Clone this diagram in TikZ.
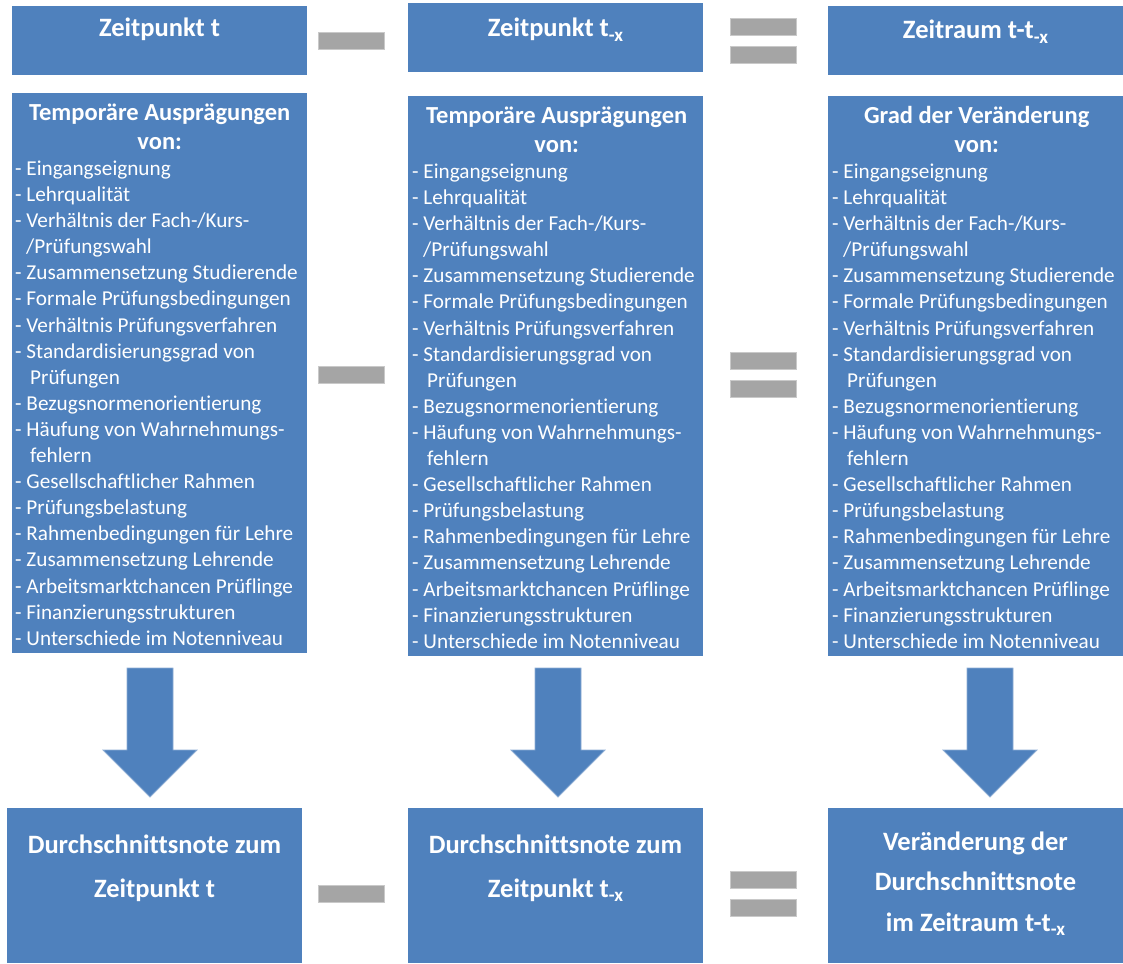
\documentclass[tikz,border=0pt]{standalone}
\usepackage{fontspec}
\setmainfont{Carlito}[Ligatures=NoCommon]
\usepackage{tikz}
\usetikzlibrary{positioning,calc}

\definecolor{boxblue}{RGB}{79,129,189}
\definecolor{opgray}{RGB}{165,165,165}

\newcommand{\subx}{\raisebox{-4.5pt}{\fontsize{19}{19}\selectfont -x}}
\newcommand{\headfont}{\fontsize{24.5}{27}\selectfont\bfseries}
\newcommand{\factorlist}{%
- Eingangseignung\\
- Lehrqualität\\
- Verhältnis der Fach-/Kurs-\\
\hspace*{11pt}/Prüfungswahl\\
- Zusammensetzung Studierende\\
- Formale Prüfungsbedingungen\\
- Verhältnis Prüfungsverfahren\\
- Standardisierungsgrad von\\
\hspace*{15pt}Prüfungen\\
- Bezugsnormenorientierung\\
- Häufung von Wahrnehmungs-\\
\hspace*{15pt}fehlern\\
- Gesellschaftlicher Rahmen\\
- Prüfungsbelastung\\
- Rahmenbedingungen für Lehre\\
- Zusammensetzung Lehrende\\
- Arbeitsmarktchancen Prüflinge\\
- Finanzierungsstrukturen\\
- Unterschiede im Notenniveau}

\begin{document}
\begin{tikzpicture}[x=1pt, y=-1pt,
    bluebox/.style={rectangle, fill=boxblue, inner sep=0pt, outer sep=0pt, minimum width=295pt},
    zeitbox/.style={bluebox, minimum height=69pt},
    listbox/.style={bluebox, minimum height=560pt},
    notebox/.style={bluebox, minimum height=155pt},
    zeittxt/.style={text=white, font=\fontsize{26.5}{30}\selectfont\bfseries, inner sep=0pt, anchor=base},
    listtxt/.style={text=white, font=\fontsize{21.2}{26.1}\selectfont, align=left, inner sep=0pt, anchor=north west},
    notetxt/.style={text=white, font=\fontsize{26.5}{44}\selectfont\bfseries, align=center, inner sep=0pt, anchor=north},
    opbar/.style={rectangle, fill=opgray, draw=opgray!60!white, line width=0.8pt, inner sep=0pt, minimum width=66pt, minimum height=17pt},
    blockarrow/.style={fill=boxblue, draw=boxblue!65!white, line width=0.8pt}]

    \useasboundingbox (0,0) rectangle (1123,963);

    % top row: points in time
    \node [zeitbox] (tA) at (159.5,40.5) {};
    \node [zeitbox] (tB) at (555.5,38) {};
    \node [zeitbox] (tC) at (975.5,40.5) {};
    \node [zeittxt] (tAtxt) at (159.5,37) {Zeitpunkt t};
    \node [zeittxt] (tBtxt) at (555.5,37) {Zeitpunkt t\subx};
    \node [zeittxt] (tCtxt) at (975.5,39) {Zeitraum t-t\subx};

    % middle row: factors
    \node [listbox] (mA) at (159.5,373) {};
    \node [listbox] (mB) at (555.5,376) {};
    \node [listbox] (mC) at (975.5,376) {};
    \node [listtxt] (mAtxt) at ($(mA.north west)+(3,7)$) {\rule{0pt}{20pt}\makebox[289pt]{\headfont Temporäre Ausprägungen}\\[3pt]
        \makebox[289pt]{\headfont von:}\\[0pt]
        \factorlist};
    \node [listtxt] (mBtxt) at ($(mB.north west)+(4,7)$) {\rule{0pt}{20pt}\makebox[289pt]{\headfont Temporäre Ausprägungen}\\[3pt]
        \makebox[289pt]{\headfont von:}\\[0pt]
        \factorlist};
    \node [listtxt] (mCtxt) at ($(mC.north west)+(4,7)$) {\rule{0pt}{20pt}\makebox[289pt]{\headfont Grad der Veränderung}\\[3pt]
        \makebox[289pt]{\headfont von:}\\[0pt]
        \factorlist};

    % bottom row: average grades
    \node [notebox] (bA) at (154.5,885.5) {};
    \node [notebox] (bB) at (555.5,885.5) {};
    \node [notebox] (bC) at (975.5,885.5) {};
    \node [notetxt] (bAtxt) at ($(bA.north)+(0,25)$) {\rule{0pt}{20pt}Durchschnittsnote zum\\Zeitpunkt t};
    \node [notetxt] (bBtxt) at ($(bB.north)+(0,25)$) {\rule{0pt}{20pt}Durchschnittsnote zum\\Zeitpunkt t\subx};
    \node [notetxt, font=\fontsize{26.5}{40.5}\selectfont\bfseries] (bCtxt) at ($(bC.north)+(0,22)$) {\rule{0pt}{20pt}Veränderung der\\Durchschnittsnote\\im Zeitraum t-t\subx};

    % minus and equals signs
    \foreach \y/\n in {41/1,375/2,894/3} {
        \node [opbar] (minus\n) at (351.5,\y) {};
        \node [opbar] (eqtop\n) at (763.5,\y-14) {};
        \node [opbar] (eqbot\n) at (763.5,\y+14) {};
    }

    % block arrows
    \foreach \ax in {150,558,990}
        \draw [blockarrow] (\ax-23,668) -- (\ax+23,668) -- (\ax+23,750) -- (\ax+47,750)
            -- (\ax,797) -- (\ax-47,750) -- (\ax-23,750) -- cycle;
\end{tikzpicture}
\end{document}
